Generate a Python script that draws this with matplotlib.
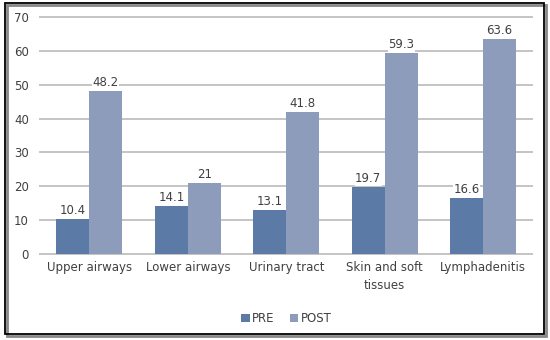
"""
PRE vs POST grouped bar chart by infection site
"""

import matplotlib.pyplot as plt
import numpy as np
from matplotlib.patches import Rectangle

# Data
categories = ["Upper airways", "Lower airways", "Urinary tract", "Skin and soft\ntissues", "Lymphadenitis"]
pre_values = [10.4, 14.1, 13.1, 19.7, 16.6]
post_values = [48.2, 21, 41.8, 59.3, 63.6]
pre_label_text = ["10.4", "14.1", "13.1", "19.7", "16.6"]
post_label_text = ["48.2", "21", "41.8", "59.3", "63.6"]
y_ticks = [0, 10, 20, 30, 40, 50, 60, 70]

pre_color = "#5B7BA6"
post_color = "#8D9CBA"
text_color = "#404040"

plt.rcParams["font.family"] = ["DejaVu Sans"]

fig = plt.figure(figsize=(5.5, 3.4), dpi=100)
ax = fig.add_axes([0.073, 0.253, 0.895, 0.697])

x = np.arange(len(categories))
width = 0.335

bars_pre = ax.bar(x - width / 2, pre_values, width, color=pre_color, label="PRE", zorder=3)
bars_post = ax.bar(x + width / 2, post_values, width, color=post_color, label="POST", zorder=3)

# value labels with white box so the grid line is hidden behind them
for bars, labels in [(bars_pre, pre_label_text), (bars_post, post_label_text)]:
    for b, t in zip(bars, labels):
        ax.annotate(t, (b.get_x() + b.get_width() / 2, b.get_height()),
                    xytext=(0, 1.5), textcoords="offset points",
                    ha="center", va="bottom", fontsize=8.5, color=text_color,
                    bbox=dict(facecolor="white", edgecolor="none", pad=0.3), zorder=4)

ax.set_xlim(-0.5, len(categories) - 0.5)
ax.set_ylim(0, 70)
ax.set_yticks(y_ticks)
ax.set_xticks(x)
ax.set_xticklabels(categories, fontsize=8.5, color=text_color, linespacing=1.5)
ax.tick_params(axis="y", labelsize=8.5, labelcolor=text_color, length=0, pad=8)
ax.tick_params(axis="x", length=0, pad=5)
ax.grid(axis="y", color="#C4C4C4", linewidth=1.4, zorder=0)
for gl in ax.get_ygridlines():
    gl.set_clip_on(False)
for s in ax.spines.values():
    s.set_visible(False)

ax.legend(loc="upper center", bbox_to_anchor=(0.5, -0.2), ncol=2, frameon=False,
          fontsize=8.5, handlelength=0.7, handleheight=0.7, handletextpad=0.2,
          columnspacing=1.3, labelcolor=text_color)

# outer border with a slight shadow, as in the reference
fig.patches.append(Rectangle((0.013, 0.013), 0.98, 0.972, transform=fig.transFigure,
                             facecolor="none", edgecolor="#888888", linewidth=2.0, zorder=0))
fig.patches.append(Rectangle((0.009, 0.018), 0.98, 0.972, transform=fig.transFigure,
                             facecolor="none", edgecolor="black", linewidth=1.3, zorder=1))

fig.savefig("out.png", dpi=100)
